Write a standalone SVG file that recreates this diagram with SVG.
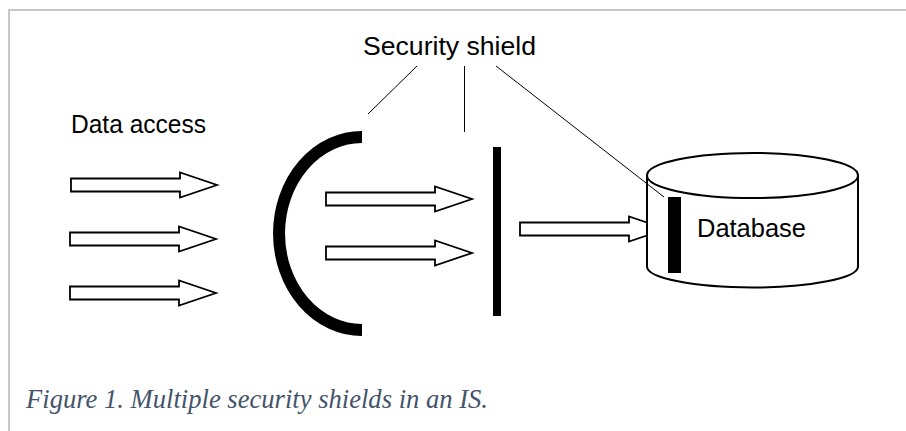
<svg xmlns="http://www.w3.org/2000/svg" width="906" height="431" viewBox="0 0 906 431">
  <style>
    .label { font-family: "Liberation Sans", Arial, sans-serif; font-size: 25px; fill: #000; }
    .caption { font-family: "Liberation Serif", "Times New Roman", serif; font-style: italic; font-size: 28px; fill: #44546a; }
    .frame { stroke: #c8c8c8; stroke-width: 2; fill: none; }
    .block-arrow { fill: #fff; stroke: #000; stroke-width: 1.8; stroke-linejoin: miter; }
    .callout { stroke: #000; stroke-width: 1; fill: none; }
    .shield { fill: #000; }
    .db { fill: #fff; stroke: #000; stroke-width: 2; }
  </style>
  <defs>
    <!-- hollow block arrow, tip at origin -->
    <path id="blockArrow" class="block-arrow" d="M-146,-6.5 H-37 V-12.5 L0,0 L-37,12.5 V6.5 H-146 Z"/>
  </defs>

  <rect width="906" height="431" fill="#fff"/>
  <!-- page frame (top and left rules) -->
  <path class="frame" d="M9,431 V10 H906"/>

  <!-- labels -->
  <g id="label-security-shield">
    <text class="label" x="363" y="55" textLength="173" lengthAdjust="spacingAndGlyphs">Security shield</text>
  </g>
  <g id="label-data-access">
    <text class="label" x="71" y="133" textLength="135" lengthAdjust="spacingAndGlyphs">Data access</text>
  </g>

  <!-- incoming data access arrows -->
  <g id="data-access-arrows">
    <use href="#blockArrow" transform="translate(217,185)"/>
    <use href="#blockArrow" transform="translate(216,239)"/>
    <use href="#blockArrow" transform="translate(216,293)"/>
  </g>

  <!-- outer curved shield -->
  <g id="shield-outer">
    <path d="M362,137 A83,96.5 0 0 0 362,330" fill="none" stroke="#000" stroke-width="12"/>
  </g>

  <!-- arrows passing the outer shield -->
  <g id="inner-arrows">
    <use href="#blockArrow" transform="translate(472,199)"/>
    <use href="#blockArrow" transform="translate(472,253)"/>
  </g>

  <!-- middle straight shield -->
  <g id="shield-middle">
    <rect class="shield" x="493" y="147" width="8" height="169"/>
  </g>

  <!-- arrow into the database -->
  <g id="db-arrow">
    <use href="#blockArrow" transform="translate(666,229)"/>
  </g>

  <!-- database cylinder with its inner shield -->
  <g id="database">
    <path class="db" d="M647,175.5 V266.5 A105.5,21 0 0 0 858,266.5 V175.5"/>
    <ellipse class="db" cx="752.5" cy="175.5" rx="105.5" ry="22.5"/>
    <rect class="shield" x="668" y="197" width="13" height="76"/>
    <text class="label" x="697" y="237" textLength="109" lengthAdjust="spacingAndGlyphs">Database</text>
  </g>

  <!-- callout lines from the shield label -->
  <g id="connectors">
    <line class="callout" x1="417" y1="66" x2="368" y2="114"/>
    <line class="callout" x1="464.5" y1="66" x2="464.5" y2="132"/>
    <line class="callout" x1="496" y1="66" x2="664" y2="197"/>
  </g>

  <!-- caption -->
  <g id="caption">
    <text class="caption" x="26" y="408" textLength="462" lengthAdjust="spacingAndGlyphs">Figure 1. Multiple security shields in an IS.</text>
  </g>
</svg>
